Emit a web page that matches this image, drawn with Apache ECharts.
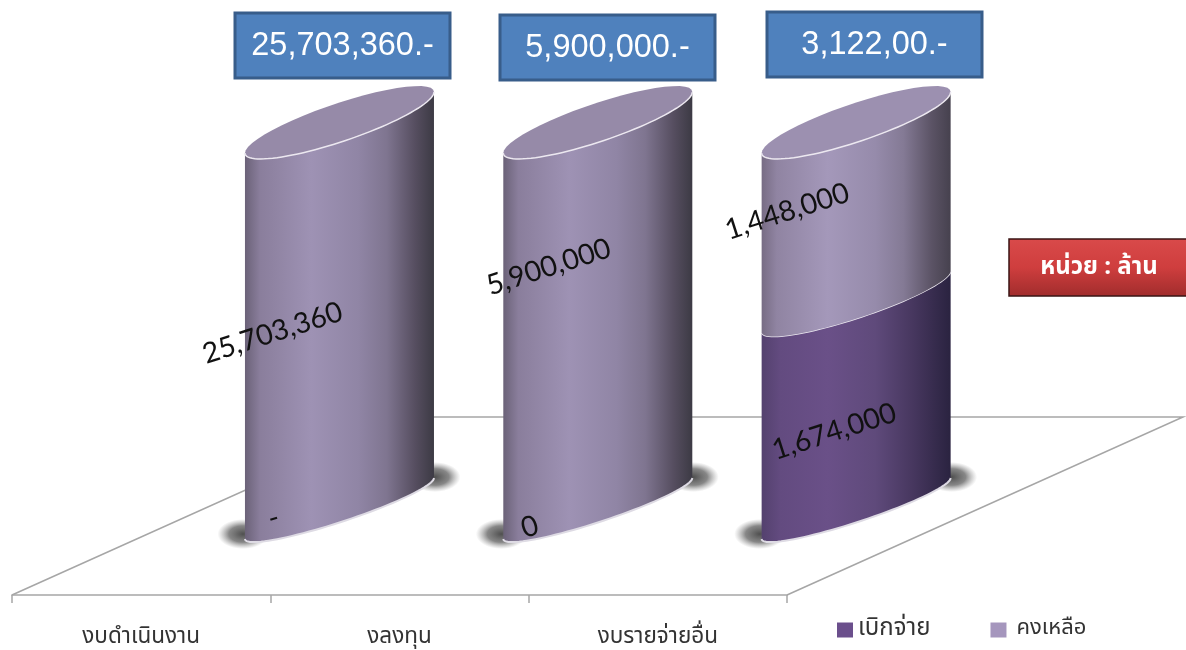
<!DOCTYPE html>
<html>
<head>
<meta charset="utf-8">
<title>chart</title>
<script src="https://cdn.jsdelivr.net/npm/echarts@6/dist/echarts.min.js"></script>
<style>
  html, body { margin: 0; padding: 0; background: #fff; }
  #main { width: 1186px; height: 650px; }
</style>
</head>
<body>
<div id="main"></div>
<script>
var categories = ['งบดำเนินงาน', 'งลงทุน', 'งบรายจ่ายอื่น'];
var seriesNames = ['เบิกจ่าย', 'คงเหลือ'];
var withdrawn = [0, 0, 1674000];
var remaining = [25703360, 5900000, 1448000];
var withdrawnLabels = ['-', '0', '1,674,000'];
var remainingLabels = ['25,703,360', '5,900,000', '1,448,000'];
var boxLabels = ['25,703,360.-', '5,900,000.-', '3,122,00.-'];
var unitLabel = 'หน่วย : ล้าน';

// label shift from the middle of each segment, px
var withdrawnNudge = [[-66, -21], [-68, -12], [-22, -4]];
var remainingNudge = [[-67, -13], [-49, -79], [-69, -31]];

var THAI_FONT = '"Noto Sans Thai", "Noto Sans", "DejaVu Sans", sans-serif';
var DEPTH_X = 198.3, RX = 94.5, SHEAR = 30.5;

function hGrad(stops) {
  return new echarts.graphic.LinearGradient(0, 0, 1, 0, stops.map(function (s) {
    return { offset: s[0], color: s[1] };
  }));
}
var lightSide = [[0, '#6b6278'], [0.08, '#8a7e9c'], [0.35, '#9e92b4'], [0.6, '#9085a5'], [0.75, '#7f7590'], [0.9, '#564e60'], [1, '#3c3a44']];
var lightSide3 = [[0, '#776c84'], [0.08, '#9084a2'], [0.35, '#a498ba'], [0.6, '#968bab'], [0.75, '#847a95'], [0.9, '#5b5365'], [1, '#46414e']];
var darkSide = [[0, '#54416e'], [0.1, '#634b80'], [0.35, '#6a5088'], [0.6, '#5f4a7b'], [0.8, '#47375f'], [1, '#2a2340']];

function shadowBlob(x, y) {
  return {
    type: 'circle',
    x: x,
    y: y,
    scaleX: 1.7,
    scaleY: 1,
    shape: { cx: 0, cy: 0, r: 15 },
    style: {
      fill: new echarts.graphic.RadialGradient(0.5, 0.5, 0.5, [
        { offset: 0, color: 'rgba(70,70,70,0.95)' },
        { offset: 0.55, color: 'rgba(95,95,95,0.75)' },
        { offset: 1, color: 'rgba(140,140,140,0)' }
      ])
    }
  };
}

// ellipses get flatter towards the floor
function ryAt(pct) {
  return 14 + 6 * pct / 100;
}
function arc(cx, cornerY, from, to, ry) {
  var pts = [];
  for (var i = 0; i <= 48; i++) {
    var t = from + (to - from) * i / 48;
    pts.push([cx + RX * Math.cos(t), cornerY - SHEAR - SHEAR * Math.cos(t) + ry * Math.sin(t)]);
  }
  return pts;
}

function shareRows(vals) {
  return vals.map(function (v, i) {
    var total = withdrawn[i] + remaining[i];
    var start = vals === withdrawn ? 0 : withdrawn[i] / total * 100;
    return [i, start, start + v / total * 100];
  });
}

function makeRenderer(labels, nudge, stops) {
  return function (params, api) {
    var i = api.value(0);
    var from = api.value(1);
    var to = api.value(2);
    var bottom = api.coord([i, from]);
    var top = api.coord([i, to]);
    var cx = bottom[0] + DEPTH_X;
    var kids = [];

    if (labels === withdrawnLabels) {
      // soft ground shadow at both ends of the base
      kids.push(shadowBlob(cx - RX - 2, bottom[1] - 5));
      kids.push(shadowBlob(cx + RX + 1, bottom[1] - 62));
    }
    if (to > from) {
      var front = arc(cx, bottom[1], 0, Math.PI, ryAt(from)).concat(arc(cx, top[1], Math.PI, 0, ryAt(to)));
      kids.push({
        type: 'polygon',
        shape: { points: front },
        style: { fill: hGrad(labels === remainingLabels && i === 2 ? lightSide3 : stops) }
      });
      if (from === 0) {
        kids.push({
          type: 'polyline',
          shape: { points: arc(cx, bottom[1], 0, Math.PI, ryAt(from)) },
          style: { fill: null, stroke: '#dedbe4', lineWidth: 2 }
        });
      }
      if (to >= 99.99) {
        kids.push({
          type: 'polygon',
          shape: { points: arc(cx, top[1], 0, Math.PI * 2, ryAt(to)) },
          style: { fill: i === 2 ? '#9c90b0' : '#968aa8' }
        });
      }
      kids.push({
        type: 'polyline',
        shape: { points: arc(cx, top[1], 0, Math.PI, ryAt(to)) },
        style: { fill: null, stroke: '#ece8f0', lineWidth: 1.5 }
      });
    }
    var mid = api.coord([i, (from + to) / 2]);
    kids.push({
      type: 'text',
      x: cx + nudge[i][0],
      y: mid[1] + nudge[i][1],
      rotation: 0.31,
      z2: 10,
      style: {
        text: labels[i],
        font: '28.5px Lato, "Open Sans", sans-serif',
        fill: '#111',
        align: 'center',
        verticalAlign: 'middle'
      }
    });
    return { type: 'group', children: kids };
  };
}

function boxGraphic(x, y, text) {
  return {
    type: 'group',
    x: x,
    y: y,
    z: 20,
    children: [{
      type: 'rect',
      shape: { x: 0, y: 0, width: 215, height: 65 },
      style: { fill: '#4f81bd', stroke: '#385d8a', lineWidth: 3 }
    }, {
      type: 'text',
      x: 107.5,
      y: 33,
      style: {
        text: text,
        font: '32.5px "Liberation Sans", Arial, sans-serif',
        fill: '#fff',
        align: 'center',
        verticalAlign: 'middle'
      }
    }]
  };
}

var myChart = echarts.init(document.getElementById('main'));
var option = {
  animation: false,
  backgroundColor: '#fff',
  grid: { left: 12, right: 399, top: 153, bottom: 55 },
  legend: {
    left: 832,
    top: 613,
    itemWidth: 16,
    itemHeight: 15,
    itemGap: 60,
    icon: 'rect',
    formatter: function (name) {
      return name === seriesNames[0] ? '{a|' + name + '}' : '{b|' + name + '}';
    },
    textStyle: {
      fontFamily: THAI_FONT,
      color: '#333',
      rich: {
        a: { fontFamily: THAI_FONT, fontSize: 24, color: '#333' },
        b: { fontFamily: THAI_FONT, fontSize: 22, color: '#333', padding: [0, 0, 0, 5] }
      }
    },
    data: seriesNames
  },
  xAxis: {
    type: 'category',
    data: categories,
    axisLine: { onZero: false, lineStyle: { color: '#a6a6a6', width: 1.5 } },
    axisTick: { show: true, length: 8, lineStyle: { color: '#a6a6a6', width: 1.5 } },
    axisLabel: { margin: 32, fontFamily: THAI_FONT, fontSize: 22.5, color: '#333' }
  },
  yAxis: { type: 'value', min: -14.5, max: 100, show: false, splitLine: { show: false } },
  graphic: {
    elements: [
      {
        type: 'polyline',
        z: 0,
        shape: { points: [[12, 595], [408, 417], [1183, 417], [787, 595]] },
        style: { fill: null, stroke: '#a6a6a6', lineWidth: 1.5 }
      },
      boxGraphic(235, 13, boxLabels[0]),
      boxGraphic(500, 15, boxLabels[1]),
      boxGraphic(767, 12, boxLabels[2]),
      {
        type: 'group',
        x: 1009,
        y: 239,
        z: 20,
        children: [{
          type: 'rect',
          shape: { x: 0, y: 0, width: 180, height: 57 },
          style: {
            fill: new echarts.graphic.LinearGradient(0, 0, 0, 1, [
              { offset: 0, color: '#d94a4a' },
              { offset: 0.5, color: '#cf3e3e' },
              { offset: 1, color: '#a02c2c' }
            ]),
            stroke: '#3a1414',
            lineWidth: 1.5
          }
        }, {
          type: 'text',
          x: 90,
          y: 30,
          style: {
            text: unitLabel,
            font: 'bold 24px ' + THAI_FONT,
            fill: '#fff',
            align: 'center',
            verticalAlign: 'middle'
          }
        }]
      }
    ]
  },
  series: [
    {
      name: seriesNames[0],
      type: 'custom',
      itemStyle: { color: '#6b4f8c' },
      encode: { x: 0, y: [1, 2] },
      data: shareRows(withdrawn),
      renderItem: makeRenderer(withdrawnLabels, withdrawnNudge, darkSide)
    },
    {
      name: seriesNames[1],
      type: 'custom',
      itemStyle: { color: '#a596bd' },
      encode: { x: 0, y: [1, 2] },
      data: shareRows(remaining),
      renderItem: makeRenderer(remainingLabels, remainingNudge, lightSide)
    }
  ]
};
myChart.setOption(option);
window.addEventListener('resize', function () {
  myChart.resize();
});
</script>
</body>
</html>
